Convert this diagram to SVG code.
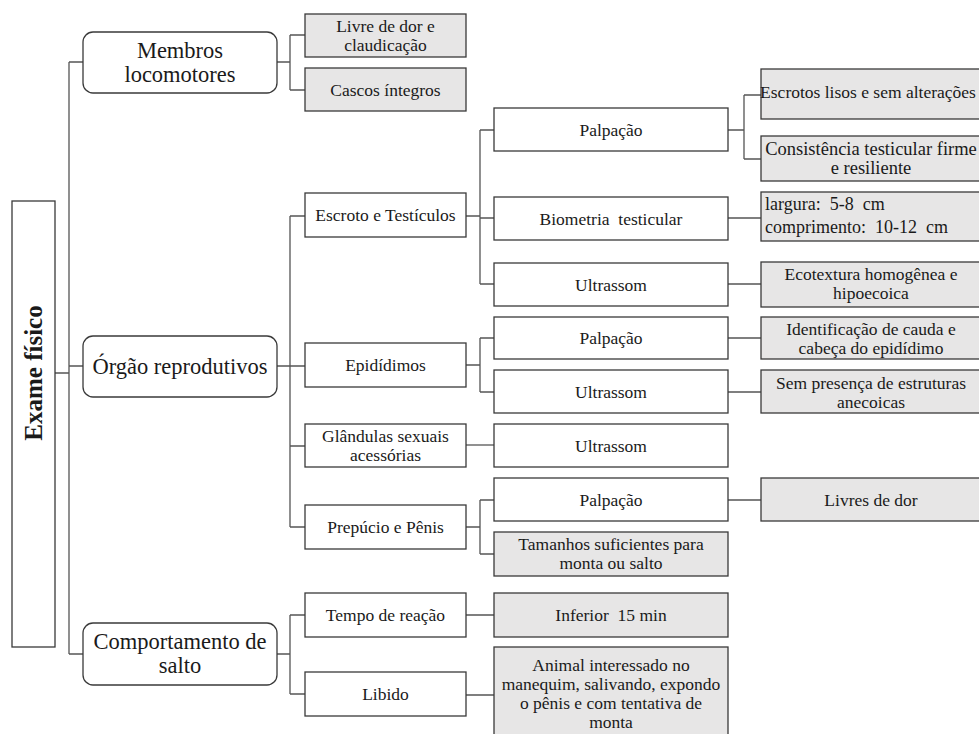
<svg xmlns="http://www.w3.org/2000/svg" width="979" height="734" viewBox="0 0 979 734">
<style>
.box{fill:#ffffff;stroke:#3a3a3a;stroke-width:1.3}
.gbox{fill:#e7e6e6;stroke:#3a3a3a;stroke-width:1.3}
.rbox{fill:#ffffff;stroke:#3a3a3a;stroke-width:1.3}
.t{font-size:17.5px;fill:#1a1a1a;text-anchor:middle}
.tr{font-size:18.5px;fill:#1a1a1a;text-anchor:middle}
.tll{font-size:18px;fill:#1a1a1a;text-anchor:start}
.tl{font-size:22.5px;fill:#1a1a1a;text-anchor:middle}
.root{font-size:25px;font-weight:bold;fill:#1a1a1a;text-anchor:middle}
.c{fill:none;stroke:#555555;stroke-width:1.3}
</style>
<rect width="979" height="734" fill="#ffffff"/>
<g id="connectors">
<path class="c" d="M55,373H69M69,62V654M69,62H83M69,366H83M69,654H83"/>
<path class="c" d="M277,62H290M290,35V90M290,35H305M290,90H305"/>
<path class="c" d="M277,366H305M290,216V527M290,216H305M290,446H305M290,527H305"/>
<path class="c" d="M466,216H480M480,130V284M480,130H494M480,218H494M480,284H494"/>
<path class="c" d="M728,130H744M744,95V159M744,95H761M744,159H761"/>
<path class="c" d="M728,218H761M728,284H761"/>
<path class="c" d="M466,365H480M480,338V392M480,338H494M480,392H494M728,338H761M728,392H761"/>
<path class="c" d="M466,445H494"/>
<path class="c" d="M466,527H480M480,500V554M480,500H494M480,554H494M728,500H761"/>
<path class="c" d="M277,654H290M290,615V694M290,615H305M290,694H305M466,615H494M466,695H494"/>
</g>
<g id="nodes" font-family="Liberation Serif, Times New Roman, serif">
<g id="n-root">
<rect class="box" x="12" y="201" width="43" height="446"/>
<text class="root" transform="translate(42,373) rotate(-90)">Exame físico</text>
</g>
<g id="n-membros">
<rect class="rbox" x="83" y="32" width="194" height="61" rx="10"/>
<text class="tl" x="180" y="58">Membros</text>
<text class="tl" x="180" y="82">locomotores</text>
</g>
<g id="n-livre">
<rect class="gbox" x="305" y="14" width="161" height="43"/>
<text class="t" x="385.5" y="32">Livre de dor e</text>
<text class="t" x="385.5" y="51">claudicação</text>
</g>
<g id="n-cascos">
<rect class="gbox" x="305" y="68" width="161" height="43"/>
<text class="t" x="385.5" y="96">Cascos íntegros</text>
</g>
<g id="n-orgao">
<rect class="rbox" x="83" y="336" width="194" height="61" rx="10"/>
<text class="tl" x="180" y="374">Órgão reprodutivos</text>
</g>
<g id="n-escroto">
<rect class="box" x="305" y="193" width="161" height="44"/>
<text class="t" x="385.5" y="221">Escroto e Testículos</text>
</g>
<g id="n-palp1">
<rect class="box" x="494" y="108" width="234" height="43"/>
<text class="t" x="611" y="136">Palpação</text>
</g>
<g id="n-escrotos-lisos">
<rect class="gbox" x="761" y="69" width="225" height="50"/>
<text class="t" x="868" y="98">Escrotos lisos e sem alterações</text>
</g>
<g id="n-consistencia">
<rect class="gbox" x="761" y="136" width="225" height="45"/>
<text class="tr" x="871" y="155">Consistência testicular firme</text>
<text class="tr" x="871" y="174">e resiliente</text>
</g>
<g id="n-biometria">
<rect class="box" x="494" y="197" width="234" height="43"/>
<text class="t" x="611" y="225" xml:space="preserve">Biometria  testicular</text>
</g>
<g id="n-biometria-res">
<rect class="gbox" x="761" y="192" width="225" height="49"/>
<text class="tll" x="765" y="210" xml:space="preserve">largura:  5-8  cm</text>
<text class="tll" x="765" y="233" xml:space="preserve">comprimento:  10-12  cm</text>
</g>
<g id="n-ultra1">
<rect class="box" x="494" y="263" width="234" height="43"/>
<text class="t" x="611" y="291">Ultrassom</text>
</g>
<g id="n-ecotextura">
<rect class="gbox" x="761" y="262" width="225" height="45"/>
<text class="t" x="871" y="280">Ecotextura homogênea e</text>
<text class="t" x="871" y="299">hipoecoica</text>
</g>
<g id="n-epididimos">
<rect class="box" x="305" y="343" width="161" height="44"/>
<text class="t" x="385.5" y="371">Epidídimos</text>
</g>
<g id="n-palp2">
<rect class="box" x="494" y="317" width="234" height="42"/>
<text class="t" x="611" y="344">Palpação</text>
</g>
<g id="n-identificacao">
<rect class="gbox" x="761" y="317" width="225" height="42"/>
<text class="t" x="871" y="335">Identificação de cauda e</text>
<text class="t" x="871" y="354">cabeça do epidídimo</text>
</g>
<g id="n-ultra2">
<rect class="box" x="494" y="370" width="234" height="43"/>
<text class="t" x="611" y="398">Ultrassom</text>
</g>
<g id="n-sem-presenca">
<rect class="gbox" x="761" y="370" width="225" height="43"/>
<text class="t" x="871" y="389">Sem presença de estruturas</text>
<text class="t" x="871" y="408">anecoicas</text>
</g>
<g id="n-glandulas">
<rect class="box" x="305" y="424" width="161" height="43"/>
<text class="t" x="385.5" y="442">Glândulas sexuais</text>
<text class="t" x="385.5" y="461">acessórias</text>
</g>
<g id="n-ultra3">
<rect class="box" x="494" y="424" width="234" height="43"/>
<text class="t" x="611" y="452">Ultrassom</text>
</g>
<g id="n-prepucio">
<rect class="box" x="305" y="505" width="161" height="44"/>
<text class="t" x="385.5" y="533">Prepúcio e Pênis</text>
</g>
<g id="n-palp3">
<rect class="box" x="494" y="478" width="234" height="43"/>
<text class="t" x="611" y="506">Palpação</text>
</g>
<g id="n-livres-dor">
<rect class="gbox" x="761" y="478" width="225" height="43"/>
<text class="t" x="871" y="506">Livres de dor</text>
</g>
<g id="n-tamanhos">
<rect class="gbox" x="494" y="532" width="234" height="44"/>
<text class="t" x="611" y="550">Tamanhos suficientes para</text>
<text class="t" x="611" y="569">monta ou salto</text>
</g>
<g id="n-comportamento">
<rect class="rbox" x="83" y="623" width="194" height="62" rx="10"/>
<text class="tl" x="180" y="649">Comportamento de</text>
<text class="tl" x="180" y="673">salto</text>
</g>
<g id="n-tempo">
<rect class="box" x="305" y="593" width="161" height="44"/>
<text class="t" x="385.5" y="621">Tempo de reação</text>
</g>
<g id="n-inferior">
<rect class="gbox" x="494" y="593" width="234" height="44"/>
<text class="t" x="611" y="621" xml:space="preserve">Inferior  15 min</text>
</g>
<g id="n-libido">
<rect class="box" x="305" y="672" width="161" height="44"/>
<text class="t" x="385.5" y="700">Libido</text>
</g>
<g id="n-animal">
<rect class="gbox" x="494" y="647" width="234" height="100"/>
<text class="t" x="611" y="671">Animal interessado no</text>
<text class="t" x="611" y="690">manequim, salivando, expondo</text>
<text class="t" x="611" y="709">o pênis e com tentativa de</text>
<text class="t" x="611" y="728">monta</text>
</g>
</g>
</svg>
